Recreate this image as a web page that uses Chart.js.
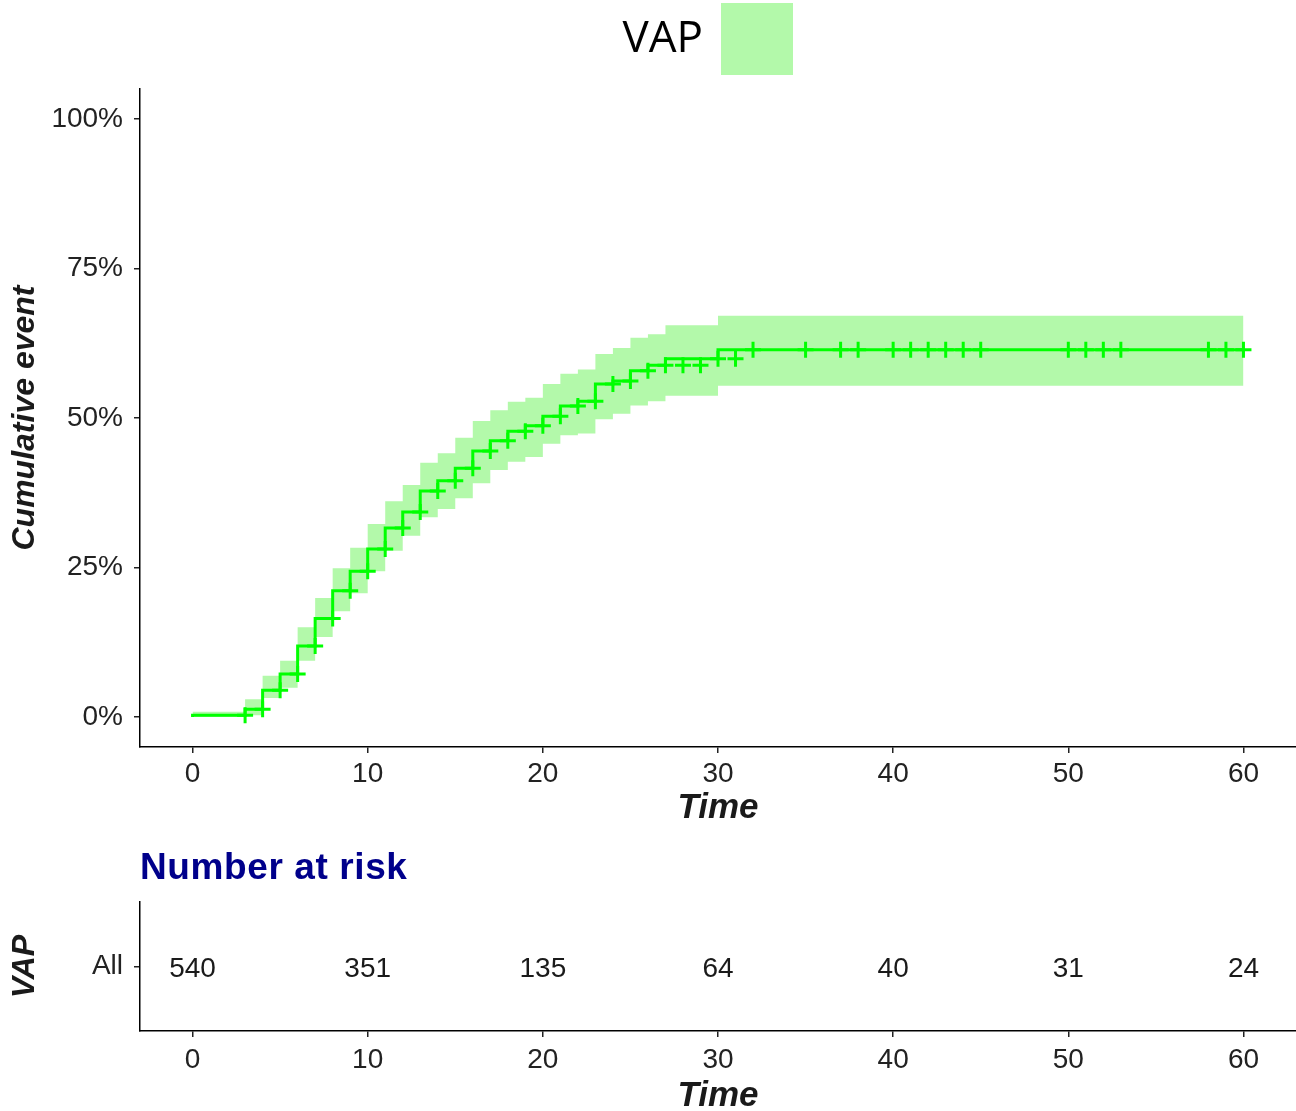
<!DOCTYPE html>
<html>
<head>
<meta charset="utf-8">
<script src="https://cdn.jsdelivr.net/npm/chart.js@4.4.1/dist/chart.umd.min.js"></script>
<style>
  body { margin: 0; background: #fff; }
  #wrap { position: relative; width: 1296px; height: 1111px; }
  #kmChart { position: absolute; left: 0; top: 0; }
  #riskChart { position: absolute; left: 0; top: 830px; }
</style>
</head>
<body>
<div id="wrap">
  <canvas id="kmChart" width="1296" height="830"></canvas>
  <canvas id="riskChart" width="1296" height="281"></canvas>
</div>
<script>
// step curve: cumulative event (%) after each event time
const eventTimes = [0, 3, 4, 5, 6, 7, 8, 9, 10, 11, 12, 13, 14, 15, 16, 17, 18, 19, 20, 21, 22, 23, 24, 25, 26, 27, 30, 32, 60];
const cumEvent = [0, 0.3, 1.3, 4.5, 7.2, 11.9, 16.5, 21.1, 24.4, 28.1, 31.6, 34.3, 37.8, 39.5, 41.6, 44.5, 46.2, 47.8, 48.7, 50.3, 52.0, 52.8, 55.7, 56.2, 57.9, 58.8, 59.9, 61.4, 61.4];
const upperCI = [0, 0.9, 3.0, 6.9, 9.4, 15.0, 19.9, 24.9, 28.3, 32.3, 36.1, 38.8, 42.5, 44.1, 46.7, 49.5, 51.3, 52.7, 53.4, 55.7, 57.4, 58.1, 60.7, 61.7, 63.4, 64.0, 65.5, 67.1, 67.1];
const lowerCI = [0, 0, 0.3, 3.2, 4.9, 9.4, 13.4, 17.7, 20.7, 24.4, 27.8, 30.3, 33.4, 34.8, 36.6, 39.1, 41.3, 42.7, 43.5, 45.7, 47.1, 47.4, 49.8, 50.7, 52.1, 52.8, 53.7, 55.4, 55.4];
const censorTimes = [3, 4, 5, 6, 7, 8, 9, 10, 11, 12, 13, 14, 15, 16, 17, 18, 19, 20, 21, 22, 23, 24, 25, 26, 27, 28, 29, 30, 31, 32,
  35, 37, 38, 40, 41, 42, 43, 44, 45, 50, 51, 52, 53, 58, 59, 60];

const timeTicks = [0, 10, 20, 30, 40, 50, 60];
const pctTicks = [0, 25, 50, 75, 100];
const riskTimes = [0, 10, 20, 30, 40, 50, 60];
const atRisk = [540, 351, 135, 64, 40, 31, 24];
const groupName = 'VAP';
const strataLabels = ['All'];

const lineColor = '#00ff00';
const bandColor = '#b3f9aa';
const sansFamily = '"Liberation Sans", Arial, sans-serif';
const tickFont = {family: sansFamily, size: 28};
const xTitleFont = {family: sansFamily, size: 35, weight: 'bold', style: 'italic'};
const yTitleFont = {family: sansFamily, size: 32, weight: 'bold', style: 'italic'};

function stepValue(t){
    let v = 0;
    for(let i = 0; i < eventTimes.length; i++){
        if(eventTimes[i] <= t) v = cumEvent[i];
    }
    return v;
}

function toPoints(ys){
    return eventTimes.map((t, i) => ({x: t, y: ys[i]}));
}

function axisGrid(){
    return {display: true, drawOnChartArea: false, drawTicks: true, tickLength: 6, color: '#222', lineWidth: 1.5};
}

const legendPlugin = {
    id: 'topLegend',
    afterDraw(chart){
        const ctx = chart.ctx;
        const area = chart.chartArea;
        const boxX = (area.left + area.right) / 2 + 3;
        ctx.save();
        ctx.fillStyle = bandColor;
        ctx.fillRect(boxX, 3, 72, 72);
        ctx.fillStyle = '#000';
        ctx.font = '44px "Open Sans", sans-serif';
        ctx.textAlign = 'right';
        ctx.textBaseline = 'middle';
        ctx.fillText(groupName, boxX - 18, 39);
        ctx.restore();
    }
};

const kmChart = new Chart(document.getElementById('kmChart').getContext('2d'), {
    type: 'line',
    data: {
        datasets: [
            {
                label: 'censor',
                type: 'scatter',
                data: censorTimes.map(t => ({x: t, y: stepValue(t)})),
                pointStyle: 'cross',
                pointRadius: 8,
                pointBorderWidth: 3,
                borderColor: lineColor,
                showLine: false,
                clip: false,
                order: 0
            },
            {
                label: groupName,
                data: toPoints(cumEvent),
                stepped: 'after',
                borderColor: lineColor,
                borderWidth: 3,
                pointRadius: 0,
                fill: false,
                order: 1
            },
            {
                label: 'upper',
                data: toPoints(upperCI),
                stepped: 'after',
                borderWidth: 0,
                borderColor: 'rgba(0,0,0,0)',
                backgroundColor: bandColor,
                pointRadius: 0,
                fill: '+1',
                order: 2
            },
            {
                label: 'lower',
                data: toPoints(lowerCI),
                stepped: 'after',
                borderWidth: 0,
                borderColor: 'rgba(0,0,0,0)',
                pointRadius: 0,
                fill: false,
                order: 3
            }
        ]
    },
    options: {
        responsive: false,
        devicePixelRatio: 1,
        animation: false,
        layout: {autoPadding: false, padding: {top: 89, left: 0, right: 0, bottom: 0}},
        plugins: {legend: {display: false}, tooltip: {enabled: false}},
        scales: {
            x: {
                type: 'linear',
                min: -3,
                max: 63,
                afterBuildTicks: s => { s.ticks = timeTicks.map(v => ({value: v})); },
                afterFit: s => { s.height = 83; },
                ticks: {font: tickFont, color: '#222', padding: 4, maxRotation: 0, autoSkip: false},
                grid: axisGrid(),
                border: {display: true, color: '#000', width: 1.5},
                title: {display: true, text: 'Time', font: xTitleFont, color: '#1a1a1a', padding: {top: 0, bottom: 1}}
            },
            y: {
                type: 'linear',
                min: -5,
                max: 105,
                afterBuildTicks: s => { s.ticks = pctTicks.map(v => ({value: v})); },
                afterFit: s => { s.width = 140; },
                ticks: {font: tickFont, color: '#222', padding: 11, callback: v => v + '%'},
                grid: axisGrid(),
                border: {display: true, color: '#000', width: 1.5},
                title: {display: true, text: 'Cumulative event', font: yTitleFont, color: '#1a1a1a', padding: {top: 6, bottom: 0}}
            }
        }
    },
    plugins: [legendPlugin]
});

const riskPlugin = {
    id: 'riskText',
    afterDatasetsDraw(chart){
        const ctx = chart.ctx;
        const meta = chart.getDatasetMeta(0);
        ctx.save();
        ctx.fillStyle = '#1a1a1a';
        ctx.font = '28px ' + sansFamily;
        ctx.textAlign = 'center';
        ctx.textBaseline = 'middle';
        meta.data.forEach((pt, i) => {
            ctx.fillText(String(atRisk[i]), pt.x, pt.y + 3);
        });
        ctx.fillStyle = '#00008b';
        ctx.font = 'bold 37px ' + sansFamily;
        ctx.letterSpacing = '0.6px';
        ctx.textAlign = 'left';
        ctx.fillText('Number at risk', chart.chartArea.left, 39);
        ctx.restore();
    }
};

const riskChart = new Chart(document.getElementById('riskChart').getContext('2d'), {
    type: 'scatter',
    data: {
        datasets: [{
            label: 'at risk',
            data: riskTimes.map(t => ({x: t, y: strataLabels[0]})),
            pointRadius: 0
        }]
    },
    options: {
        responsive: false,
        devicePixelRatio: 1,
        animation: false,
        layout: {autoPadding: false, padding: {top: 72, left: 0, right: 0, bottom: 0}},
        plugins: {legend: {display: false}, tooltip: {enabled: false}},
        scales: {
            x: {
                type: 'linear',
                min: -3,
                max: 63,
                afterBuildTicks: s => { s.ticks = timeTicks.map(v => ({value: v})); },
                afterFit: s => { s.height = 80; },
                ticks: {font: tickFont, color: '#222', padding: 6, maxRotation: 0, autoSkip: false},
                grid: axisGrid(),
                border: {display: true, color: '#000', width: 1.5},
                title: {display: true, text: 'Time', font: xTitleFont, color: '#1a1a1a', padding: {top: 0, bottom: -6}}
            },
            y: {
                type: 'category',
                labels: strataLabels,
                offset: true,
                afterFit: s => { s.width = 140; },
                ticks: {font: tickFont, color: '#222', padding: 11},
                grid: axisGrid(),
                border: {display: true, color: '#000', width: 1.5},
                title: {display: true, text: groupName, font: yTitleFont, color: '#1a1a1a', padding: {top: 6, bottom: 0}}
            }
        }
    },
    plugins: [riskPlugin]
});
</script>
</body>
</html>
